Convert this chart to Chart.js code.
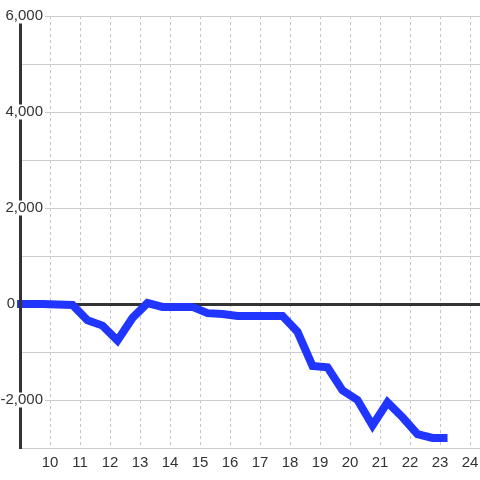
<!DOCTYPE html>
<html><head><meta charset="utf-8">
<script src="https://cdn.jsdelivr.net/npm/chart.js@4/dist/chart.umd.min.js"></script>
<style>html,body{margin:0;padding:0;background:#fff}</style>
</head><body>
<canvas id="c" width="480" height="480"></canvas>
<script>
const xValues = [8.75, 9.25, 9.75, 10.25, 10.75, 11.25, 11.75, 12.25, 12.75, 13.25, 13.75, 14.25, 14.75, 15.25, 15.75, 16.25, 16.75, 17.25, 17.75, 18.25, 18.75, 19.25, 19.75, 20.25, 20.75, 21.25, 21.75, 22.25, 22.75, 23.25];
const yValues = [0, 0, 0, -10, -20, -340, -450, -760, -290, 20, -60, -60, -60, -190, -210, -250, -250, -250, -250, -580, -1290, -1320, -1800, -2000, -2530, -2050, -2360, -2710, -2790, -2790];
const xTicks = [10, 11, 12, 13, 14, 15, 16, 17, 18, 19, 20, 21, 22, 23, 24];
const yTicks = [-3000, -2000, -1000, 0, 1000, 2000, 3000, 4000, 5000, 6000];
const yLabelTicks = [-2000, 0, 2000, 4000, 6000];

const font = {family: "'Liberation Sans', Arial, sans-serif", size: 15};

new Chart(document.getElementById('c'), {
  type: 'line',
  data: {
    datasets: [{
      data: xValues.map((x, i) => ({x: x, y: yValues[i]})),
      borderColor: '#2036ff',
      borderWidth: 8,
      pointRadius: 0,
      tension: 0,
      fill: false,
      clip: {left: 3, top: 4, right: 4, bottom: 4}
    }]
  },
  options: {
    responsive: false,
    animation: false,
    layout: {padding: {top: 16, left: 0, right: 0, bottom: 0}},
    plugins: {legend: {display: false}, tooltip: {enabled: false}},
    scales: {
      x: {
        type: 'linear',
        min: 9,
        max: 24.3333,
        bounds: 'data',
        afterBuildTicks: s => { s.ticks = xTicks.map(v => ({value: v})); },
        afterFit: s => { s.height = 32; },
        ticks: {font: font, color: '#333', padding: 1, maxRotation: 0, autoSkip: false},
        grid: {color: '#c4c4c4', lineWidth: 1, drawTicks: true, tickLength: 5, tickColor: 'rgba(0,0,0,0)'},
        border: {color: '#cccccc', width: 1, dash: [3, 3]}
      },
      y: {
        type: 'linear',
        min: -3000,
        max: 6000,
        afterBuildTicks: s => { s.ticks = yTicks.map(v => ({value: v})); },
        afterFit: s => { s.width = 20; },
        ticks: {
          z: 2,
          font: {family: font.family, size: 15, lineHeight: 1},
          color: '#333',
          mirror: true,
          crossAlign: 'far',
          padding: -19.5,
          autoSkip: false,
          callback: v => !yLabelTicks.includes(v) ? '' : (v === 0 ? '0\u2007\u2007\u2007\u2009' : v.toLocaleString('en-US')),
          showLabelBackdrop: ctx => yLabelTicks.includes(ctx.tick.value) && ctx.tick.value !== 0,
          backdropColor: '#ffffff',
          backdropPadding: {left: 2, right: 2, top: 0, bottom: 0}
        },
        grid: {
          color: ctx => ctx.tick && ctx.tick.value === 0 ? '#333333' : '#cccccc',
          lineWidth: ctx => ctx.tick && ctx.tick.value === 0 ? 3 : 1,
          drawTicks: false
        },
        border: {color: '#333333', width: 3, z: 1}
      }
    }
  }
});
</script>
</body></html>
